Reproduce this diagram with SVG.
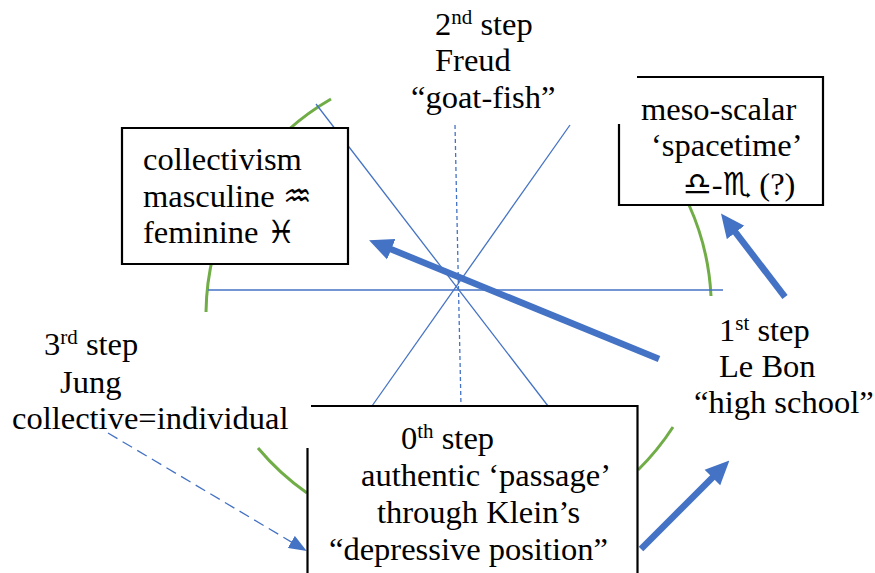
<svg xmlns="http://www.w3.org/2000/svg" width="875" height="573" viewBox="0 0 875 573">
<style>
text{font-family:"Liberation Serif","Times New Roman",serif;font-size:32.5px;fill:#000}
.sym{font-family:"DejaVu Sans",sans-serif;font-size:32px}
.sup{font-size:21px}
.box{fill:#fff;stroke:none}
.edge{fill:none;stroke:#000;stroke-width:2.2}
.arc{fill:none;stroke:#70ad47;stroke-width:3}
.thin{fill:none;stroke:#4472c4;stroke-width:1.3}
.thick{fill:none;stroke:#4472c4;stroke-width:6.500}
</style>
<defs>
<marker id="big" markerUnits="userSpaceOnUse" markerWidth="24" markerHeight="24" refX="10" refY="11" orient="auto" viewBox="0 0 24 22"><path d="M0 0L24 11L0 22Z" fill="#4472c4"/></marker>
<marker id="small" markerUnits="userSpaceOnUse" markerWidth="18" markerHeight="14" refX="9" refY="7" orient="auto" viewBox="0 0 18 14"><path d="M0 0L18 7L0 14Z" fill="#4472c4"/></marker>
</defs>
<g id="connectors">
<path class="arc" d="M206 312A250 250 0 0 1 331 99"/>
<path class="arc" d="M689 205A250 250 0 0 1 711 296"/>
<path class="arc" d="M258 448A252 252 0 0 0 307 493"/>
<path class="arc" d="M673 427A252 252 0 0 1 638 470"/>
<path class="thin" d="M208 290H723"/>
<path class="thin" d="M316 104L548 406"/>
<path class="thin" d="M570 125L372 406"/>
<path class="thin" stroke-dasharray="4 3" d="M455 125L461 406"/>
<path class="thick" marker-end="url(#big)" d="M659 359L382 245.500"/>
<path class="thick" marker-end="url(#big)" d="M785 297L729.500 224.500"/>
<path class="thick" marker-end="url(#big)" d="M641 549L719.500 470.500"/>
<path class="thin" stroke-dasharray="11 6" marker-end="url(#small)" d="M108 433L299 546.500"/>
</g>
<g id="node-collectivism">
<rect class="box" x="122" y="128" width="226" height="136"/>
<path class="edge" d="M122 128H348V264H122Z"/>
<text x="143" y="170">collectivism</text>
<text x="143" y="207">masculine <tspan class="sym">♒</tspan></text>
<text x="143" y="243">feminine <tspan class="sym">♓</tspan></text>
</g>
<g id="node-meso">
<rect class="box" x="619" y="77" width="204" height="128"/>
<path class="edge" d="M637 77H823V205H619V124"/>
<text x="641" y="120">meso-scalar</text>
<text x="651" y="156">‘spacetime’</text>
<text x="683" y="195"><tspan class="sym">♎</tspan>-<tspan class="sym">♏</tspan> (?)</text>
</g>
<g id="node-step0">
<rect class="box" x="307" y="406" width="331" height="167"/>
<path class="edge" d="M311 406H637.500V573M307.500 448V573"/>
<text x="401" y="449">0<tspan class="sup" dy="-11">th</tspan><tspan dy="11"> step</tspan></text>
<text x="361" y="486">authentic ‘passage’</text>
<text x="377" y="523">through Klein’s</text>
<text x="329" y="560">“depressive position”</text>
</g>
<g id="node-step2">
<text x="435" y="35">2<tspan class="sup" dy="-11">nd</tspan><tspan dy="11"> step</tspan></text>
<text x="435" y="71">Freud</text>
<text x="411" y="108">“goat-fish”</text>
</g>
<g id="node-step1">
<text x="719" y="341">1<tspan class="sup" dy="-11">st</tspan><tspan dy="11"> step</tspan></text>
<text x="719" y="377">Le Bon</text>
<text x="694" y="413">“high school”</text>
</g>
<g id="node-step3">
<text x="44" y="355">3<tspan class="sup" dy="-11">rd</tspan><tspan dy="11"> step</tspan></text>
<text x="60" y="393">Jung</text>
<text x="12" y="429">collective=individual</text>
</g>
</svg>
